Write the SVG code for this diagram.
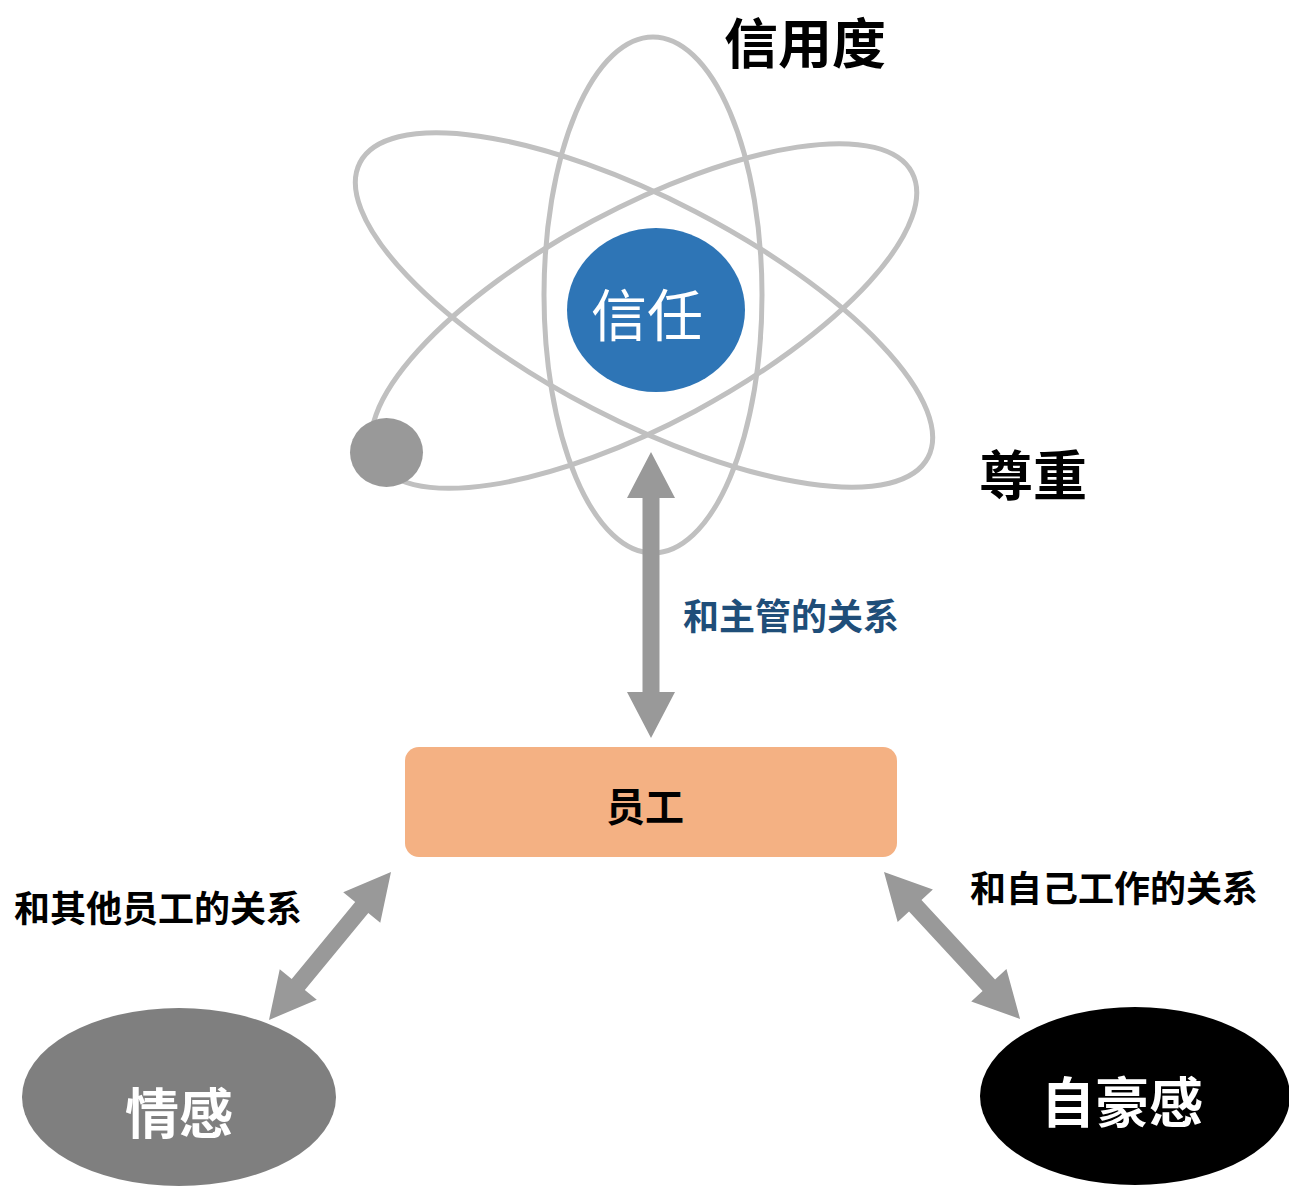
<svg xmlns="http://www.w3.org/2000/svg" width="1289" height="1187" viewBox="0 0 1289 1187">
<style>
.orbit{fill:none;stroke:#C0C0C0;stroke-width:5}
.t{font-family:"Noto Sans CJK SC","Noto Sans",sans-serif;font-weight:bold;text-anchor:middle;dominant-baseline:central}
.arrow{fill:#999999}
</style>
<rect width="1289" height="1187" fill="#FFFFFF"/>
<g id="atom">
<ellipse class="orbit" cx="653" cy="295" rx="109" ry="258"/>
<ellipse class="orbit" cx="644" cy="310" rx="320" ry="111" transform="rotate(27.4 644 310)"/>
<ellipse class="orbit" cx="644" cy="316" rx="304" ry="108" transform="rotate(-28.2 644 316)"/>
<ellipse cx="386.5" cy="452.5" rx="36.5" ry="34.5" fill="#999999"/>
</g>
<g id="trust">
<ellipse cx="656" cy="310" rx="89" ry="82" fill="#2E75B6"/>
<text class="t" x="647" y="311" font-size="56" fill="#FFFFFF" style="font-weight:400">信任</text>
</g>
<g id="credit"><text class="t" x="805" y="40" font-size="54" fill="#000000">信用度</text></g>
<g id="respect"><text class="t" x="1033" y="472" font-size="54" fill="#000000">尊重</text></g>
<g id="employee">
<rect x="405" y="747" width="492" height="110" rx="14" ry="14" fill="#F4B183"/>
<text class="t" x="645" y="804" font-size="39" fill="#000000">员工</text>
</g>
<g id="emotion">
<ellipse cx="179" cy="1097" rx="157" ry="89" fill="#7F7F7F"/>
<text class="t" x="179" y="1110" font-size="54" fill="#FFFFFF">情感</text>
</g>
<g id="pride">
<ellipse cx="1135" cy="1096" rx="155" ry="89" fill="#000000"/>
<text class="t" x="1122" y="1099" font-size="54" fill="#FFFFFF">自豪感</text>
</g>
<g id="connectors">
<polygon class="arrow" transform="translate(651 452) rotate(90)" points="0,0 46,-24 46,-8.5 240,-8.5 240,-24 286,0 240,24 240,8.5 46,8.5 46,24"/>
<polygon class="arrow" transform="translate(391 872) rotate(129.5)" points="0,0 46,-24 46,-8.5 145.8,-8.5 145.8,-24 191.8,0 145.8,24 145.8,8.5 46,8.5 46,24"/>
<polygon class="arrow" transform="translate(884 872) rotate(47.2)" points="0,0 46,-24 46,-8.5 154.3,-8.5 154.3,-24 200.3,0 154.3,24 154.3,8.5 46,8.5 46,24"/>
<text class="t" x="791" y="614" font-size="36" fill="#1F4E79">和主管的关系</text>
<text class="t" x="158" y="906" font-size="36" fill="#000000">和其他员工的关系</text>
<text class="t" x="1114" y="886" font-size="36" fill="#000000">和自己工作的关系</text>
</g>
</svg>
